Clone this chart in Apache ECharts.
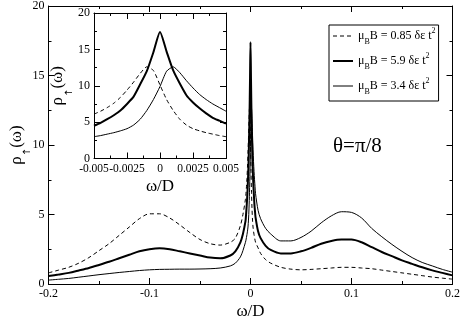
<!DOCTYPE html>
<html><head><meta charset="utf-8">
<script src="https://cdn.jsdelivr.net/npm/echarts@6/dist/echarts.min.js"></script>
<style>html,body{margin:0;padding:0;background:#fff}#c{width:463px;height:325px}</style>
</head><body><div id="c"></div>
<script>
// ---- data ----
var insetX = [-0.005,-0.0045,-0.004,-0.0035,-0.003,-0.0025,-0.002,-0.0015,-0.001,-0.0005,0,0.0005,0.001,0.0015,0.002,0.0025,0.003,0.0035,0.004,0.0045,0.005];
var insetDashed = [6.1,6.5,7.0,7.6,8.4,9.4,10.5,11.7,12.6,12.1,10.1,8.1,6.6,5.4,4.6,4.1,3.8,3.55,3.35,3.15,3.0];
var insetThick  = [4.5,4.9,5.4,5.95,6.6,7.5,8.5,10.2,12.0,14.6,17.4,14.7,12.1,10.3,8.7,7.7,6.9,6.2,5.6,5.2,4.8];
var insetThin   = [3.0,3.15,3.35,3.55,3.8,4.1,4.6,5.4,6.6,8.1,9.9,12.0,12.6,11.8,10.7,9.7,8.8,8.1,7.5,7.0,6.5];

var leftX = [-0.2,-0.19,-0.18,-0.17,-0.16,-0.15,-0.14,-0.13,-0.12,-0.11,-0.1,-0.09,-0.08,-0.07,-0.06,-0.05,-0.04,-0.03,-0.02,-0.015,-0.01,-0.0075];
var leftDashed = [0.8,1.0,1.2,1.5,1.9,2.4,2.9,3.5,4.1,4.7,5.05,5.05,4.75,4.25,3.7,3.2,2.9,2.8,3.0,3.3,4.2,5.0];
var leftThick  = [0.57,0.68,0.8,0.97,1.15,1.37,1.6,1.85,2.1,2.35,2.5,2.57,2.5,2.35,2.2,2.05,1.9,1.85,2.05,2.35,3.0,3.6];
var leftThin   = [0.28,0.34,0.4,0.49,0.58,0.67,0.75,0.83,0.9,0.97,1.02,1.05,1.06,1.07,1.07,1.08,1.1,1.15,1.3,1.5,1.95,2.4];

var rightX = [0.0075,0.01,0.015,0.02,0.03,0.04,0.05,0.06,0.07,0.08,0.09,0.1,0.11,0.12,0.13,0.14,0.15,0.16,0.17,0.18,0.19,0.2];
var rightDashed = [2.6,2.2,1.75,1.5,1.2,1.07,1.02,1.05,1.1,1.15,1.2,1.2,1.15,1.1,1.0,0.9,0.8,0.7,0.6,0.5,0.42,0.35];
var rightThick  = [3.8,3.3,2.75,2.45,2.2,2.2,2.35,2.6,2.9,3.1,3.2,3.2,3.0,2.65,2.3,2.0,1.7,1.45,1.2,0.98,0.8,0.62];
var rightThin   = [5.3,4.7,4.0,3.6,3.1,3.1,3.35,3.8,4.4,4.9,5.2,5.15,4.75,4.0,3.4,2.85,2.35,1.9,1.55,1.3,1.05,0.85];

var mainTickLabels = ['-0.2','-0.1','0','0.1','0.2'];
var insetTickLabels = ['-0.005','-0.0025','0','0.0025','0.005'];
var seriesNames = ['0.85','5.9','3.4'];

// ---- build ----
function pairs(xs, ys){ return xs.map(function(x,i){ return [x, ys[i]]; }); }
var mainX = leftX.concat(insetX, rightX);
var mainDashed = leftDashed.concat(insetDashed, rightDashed);
var mainThick = leftThick.concat(insetThick, rightThick);
var mainThin = leftThin.concat(insetThin, rightThin);

var FONT = 'Liberation Serif';
var black = '#000';
function mkLabel(arr, min, step){
  return function(v){ var i = Math.round((v - min)/step); return arr[i] !== undefined ? arr[i] : ''; };
}
function xAx(grid, pos, min, max, interval, labels, name, nameGap, z, fs){
  return {
    type:'value', gridIndex:grid, position:pos, min:min, max:max, interval:interval, z:z||0,
    axisLine:{show:true, onZero:false, lineStyle:{color:black, width:1}},
    axisTick:{show:true, inside:true, length:6, lineStyle:{color:black}},
    minorTick:{show:true, splitNumber:2, length:3, lineStyle:{color:black}},
    splitLine:{show:false},
    axisLabel: labels ? {show:true, interval:0, color:black, fontFamily:FONT, fontSize:fs||12, margin:4, hideOverlap:false, showMinLabel:true, showMaxLabel:true, formatter:mkLabel(labels, min, interval)} : {show:false},
    name: name || '', nameLocation:'middle', nameGap: nameGap || 0, nameMoveOverlap:false,
    nameTextStyle:{color:black, fontFamily:FONT, fontSize:17}
  };
}
function yAx(grid, pos, name, nameGap, z){
  return {
    type:'value', gridIndex:grid, position:pos, min:0, max:20, interval:5, z:z||0,
    axisLine:{show:true, onZero:false, lineStyle:{color:black, width:1}},
    axisTick:{show:true, inside:true, length:6, lineStyle:{color:black}},
    minorTick:{show:true, splitNumber:2, length:3, lineStyle:{color:black}},
    splitLine:{show:false},
    axisLabel: pos==='left' ? {show:true, color:black, fontFamily:FONT, fontSize:12, margin:4} : {show:false},
    name: name ? '{a|ρ}{s|↑}{a|(ω)}' : '', nameLocation:'middle', nameGap: nameGap || 0, nameRotate:90, nameMoveOverlap:false,
    nameTextStyle:{color:black, fontFamily:FONT, rich:{
      a:{fontFamily:FONT, fontSize:17, color:black, lineHeight:20},
      s:{fontFamily:'DejaVu Sans', fontSize:10, color:black, lineHeight:20, verticalAlign:'bottom', padding:[0,0,-6,0]}
    }}
  };
}
var styles = [
  {width:1, type:[4,3]},
  {width:2, type:'solid'},
  {width:1, type:'solid'}
];
var mainData = [mainDashed, mainThick, mainThin];
var insetData = [insetDashed, insetThick, insetThin];
var series = [];
for (var k=0;k<3;k++){
  series.push({type:'line', name:seriesNames[k], xAxisIndex:0, yAxisIndex:0, data:pairs(mainX, mainData[k]),
    showSymbol:false, symbol:'none', smooth:0.3, lineStyle:{color:black, width:styles[k].width, type:styles[k].type}, itemStyle:{color:black}, z:3});
}
for (var k=0;k<3;k++){
  series.push({type:'line', name:seriesNames[k], xAxisIndex:2, yAxisIndex:2, data:pairs(insetX, insetData[k]),
    showSymbol:false, symbol:'none', smooth:0.2, lineStyle:{color:black, width:styles[k].width, type:styles[k].type}, itemStyle:{color:black}, z:5});
}
var legendData = seriesNames.map(function(n,k){
  return {name:n, lineStyle:{color:black, width:styles[k].width, type:styles[k].type}, itemStyle:{color:'rgba(0,0,0,0)', borderWidth:0, opacity:0}};
});

var chart = echarts.init(document.getElementById('c'), null, {renderer:'canvas'});
chart.setOption({
  animation:false,
  backgroundColor:'#fff',
  grid:[
    {left:39, top:5, right:8, bottom:30, containLabel:false},
    {left:94, top:13, width:132, height:145.5, containLabel:false, show:true, backgroundColor:'#fff', borderWidth:0, z:1}
  ],
  xAxis:[
    xAx(0,'bottom',-0.2,0.2,0.1,mainTickLabels,'ω/D',19),
    xAx(0,'top',-0.2,0.2,0.1,null),
    xAx(1,'bottom',-0.005,0.005,0.0025,insetTickLabels,'ω/D',20,6,11.5),
    xAx(1,'top',-0.005,0.005,0.0025,null,null,0,6)
  ],
  yAxis:[
    yAx(0,'left',true,22),
    yAx(0,'right'),
    yAx(1,'left',true,26,6),
    yAx(1,'right',false,0,6)
  ],
  legend:{
    show:true, orient:'vertical', left:329, top:25, padding:[2,3,5,3], itemGap:6,
    itemWidth:20, itemHeight:10, borderColor:black, borderWidth:1, backgroundColor:'#fff',
    data:legendData, z:10,
    itemStyle:{color:'rgba(0,0,0,0)', borderWidth:0, opacity:0},
    formatter:function(n){ return '{t|μ}{sub|B}{t|B = '+n+' δε t}{sup|2}'; },
    textStyle:{color:black, fontFamily:FONT, fontSize:12, lineHeight:14, rich:{
      t:{fontFamily:FONT, fontSize:12, color:black, lineHeight:14},
      sub:{fontFamily:FONT, fontSize:8, color:black, lineHeight:14, verticalAlign:'bottom', padding:[0,0,-3,0]},
      sup:{fontFamily:FONT, fontSize:8, color:black, lineHeight:14, verticalAlign:'top', padding:[-2,0,0,0]}
    }}
  },
  graphic:[
    {type:'text', left:333, top:136, z:10, style:{text:'θ=π/8', fontFamily:FONT, fontSize:21, fill:black}}
  ],
  series:series
});
</script></body></html>
